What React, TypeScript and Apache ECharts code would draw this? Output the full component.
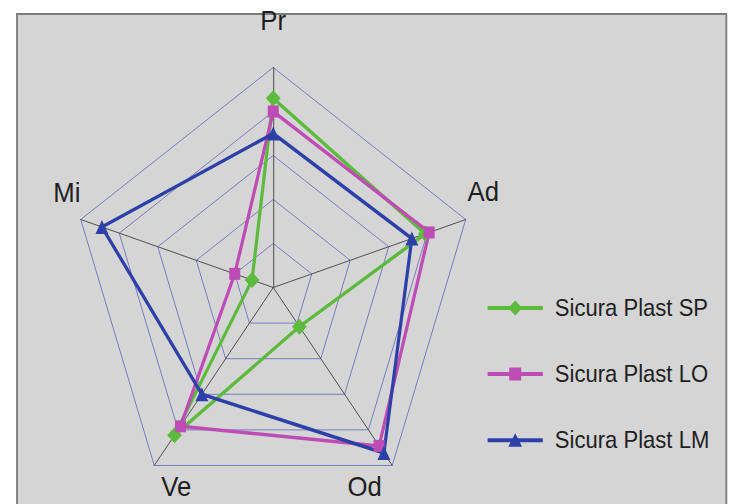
import React, { useEffect, useRef } from "react";
import * as echarts from "echarts";

// Indicators in ECharts radar order (counter-clockwise from the top)
const categories = ["Pr", "Mi", "Ve", "Od", "Ad"];
const axisMax = 100;

const seriesNames = ["Sicura Plast SP", "Sicura Plast LO", "Sicura Plast LM"];
const valuesSP = [86, 11, 83, 22, 79];
const valuesLO = [80, 20, 78, 89, 81];
const valuesLM = [70, 89, 60, 93, 72];

const colors = ["#5cba3c", "#bd4db4", "#2c40a8"];
const symbols = ["diamond", "rect", "triangle"];
const symbolSizes = [16, 12, 14];
const legendIcons = [
  "path://M0,5.5H60V9.5H0Z M30,0L37.5,7.5L30,15L22.5,7.5Z",
  "path://M0,5.5H60V9.5H0Z M23.5,1H36.5V14H23.5Z",
  "path://M0,5.5H60V9.5H0Z M30,0.5L37.5,14H22.5Z",
];

// layout (unscaled coordinates; the whole chart is squeezed horizontally)
const SQUEEZE = 0.92;
const W = 794;
const H = 504;
const CX = 297;
const CY = 287.5;
const R = 220;
const labelOffsets: [number, number][] = [
  [0, -46.5],
  [-15, -26.5],
  [24, 21.5],
  [-30, 21.5],
  [19, -27.5],
];
const FONT = "'Liberation Sans', Arial, sans-serif";

export default function App() {
  const ref = useRef<HTMLDivElement>(null);

  useEffect(() => {
    if (!ref.current) return;
    const chart = echarts.init(ref.current, null, { renderer: "svg", width: W, height: H });
    const n = categories.length;
    const labelGraphics = categories.map((name, i) => {
      const ang = Math.PI / 2 + (i * 2 * Math.PI) / n;
      const vx = CX + R * Math.cos(ang);
      const vy = CY - R * Math.sin(ang);
      return {
        type: "text",
        x: vx + labelOffsets[i][0],
        y: vy + labelOffsets[i][1],
        style: {
          text: name,
          fill: "#1e1e1e",
          font: `28px ${FONT}`,
          align: "center",
          verticalAlign: "middle",
        },
        z: 10,
      };
    });
    const allValues = [valuesSP, valuesLO, valuesLM];
    chart.setOption({
      animation: false,
      backgroundColor: "transparent",
      graphic: [
        {
          type: "rect",
          shape: { x: 18.5, y: 14, width: 771, height: 520 },
          style: { fill: "#d5d5d5", stroke: "#7c7c7c", lineWidth: 2 },
          z: -10,
          silent: true,
        },
        ...labelGraphics,
      ],
      legend: {
        orient: "vertical",
        left: 525,
        top: 288,
        itemWidth: 60,
        itemHeight: 15,
        itemGap: 36,
        data: seriesNames.map((name, i) => ({ name, icon: legendIcons[i] })),
        textStyle: {
          fontFamily: FONT,
          fontSize: 24,
          lineHeight: 30,
          color: "#1e1e1e",
          padding: [0, 0, 0, 8],
        },
      },
      radar: {
        center: [CX, CY],
        radius: R,
        shape: "polygon",
        splitNumber: 5,
        indicator: categories.map((name) => ({ name, max: axisMax, min: 0 })),
        axisName: { show: false },
        axisLine: { lineStyle: { color: "#4a4a4a", width: 1 } },
        splitLine: { lineStyle: { color: "#7676c0", width: 1 } },
        splitArea: { show: false },
      },
      series: [
        {
          type: "radar",
          data: seriesNames.map((name, i) => ({
            name,
            value: allValues[i],
            symbol: symbols[i],
            symbolSize: symbolSizes[i],
            lineStyle: { color: colors[i], width: 3.5 },
            itemStyle: { color: colors[i] },
          })),
        },
      ],
    });
    return () => chart.dispose();
  }, []);

  return (
    <div
      style={{
        position: "fixed",
        left: 0,
        top: 0,
        width: W,
        height: H,
        transform: `scaleX(${SQUEEZE})`,
        transformOrigin: "0 0",
        background: "#ffffff",
      }}
    >
      <div ref={ref} style={{ width: W, height: H }} />
    </div>
  );
}
